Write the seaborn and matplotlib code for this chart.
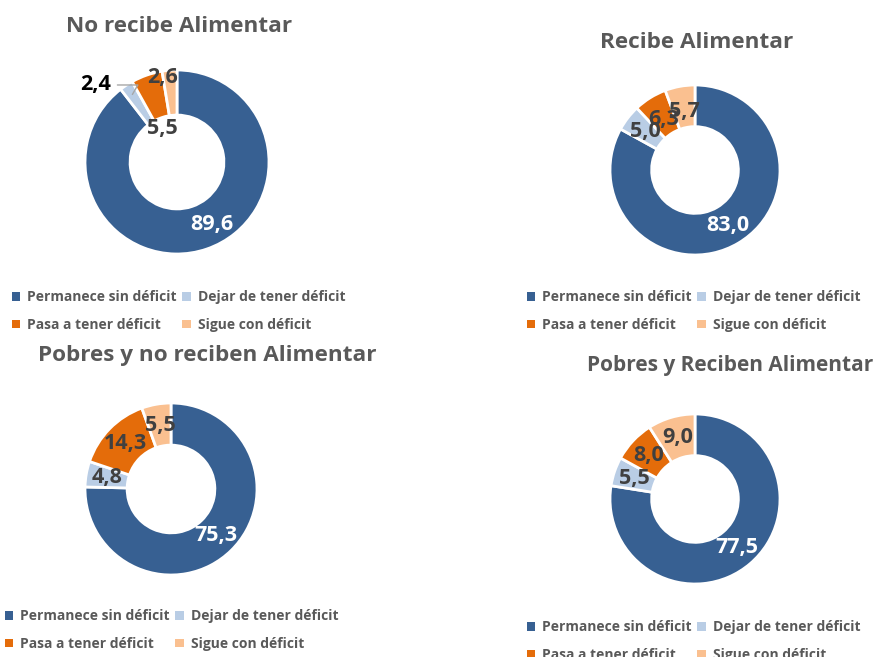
import numpy as np
import matplotlib.pyplot as plt
import seaborn as sns
from matplotlib.patches import Patch

categories = ["Permanece sin déficit", "Dejar de tener déficit",
              "Pasa a tener déficit", "Sigue con déficit"]
colors = ["#376092", "#B9CDE5", "#E46C0A", "#FAC090"]

no_recibe = [89.6, 2.4, 5.5, 2.6]
recibe = [83.0, 5.0, 6.3, 5.7]
pobres_no_recibe = [75.3, 4.8, 14.3, 5.5]
pobres_recibe = [77.5, 5.5, 8.0, 9.0]

titles = ["No recibe Alimentar", "Recibe Alimentar",
          "Pobres y no reciben Alimentar", "Pobres y Reciben Alimentar"]

W, H = 874, 657
sns.set_theme(style="white")
plt.rcParams["font.family"] = ["Open Sans", "DejaVu Sans"]

fig = plt.figure(figsize=(W / 100, H / 100), dpi=100)
fig.patch.set_facecolor("white")

TXT = "#404040"
GRAY = "#595959"


def px(x, y):
    # pixel coords (top-left origin) -> figure fraction
    return x / W, 1 - y / H


def donut(values, center, radius, title, title_pos, legend_pos, title_size=16.2,
          label_r=None, label_dang=None):
    cx, cy = center
    ax = fig.add_axes([(cx - radius) / W, (H - cy - radius) / H,
                       2 * radius / W, 2 * radius / H])
    wedges, _ = ax.pie(values, colors=colors, startangle=90, counterclock=False,
                       radius=1.0,
                       wedgeprops=dict(width=0.49, edgecolor="white", linewidth=2))
    ax.set_xlim(-1, 1)
    ax.set_ylim(-1, 1)
    ax.set_aspect("auto")
    ax.axis("off")

    label_r = label_r or [0.75] * len(values)
    label_dang = label_dang or [0] * len(values)
    for i, (w, v) in enumerate(zip(wedges, values)):
        ang = np.deg2rad((w.theta1 + w.theta2) / 2 + label_dang[i])
        r = label_r[i]
        x, y = r * np.cos(ang), r * np.sin(ang)
        txt = f"{v:.1f}".replace(".", ",")
        col = "white" if i == 0 else TXT
        if r > 1.05:
            mid = np.deg2rad((w.theta1 + w.theta2) / 2)
            ax.annotate(txt, xy=(0.88 * np.cos(mid), 0.88 * np.sin(mid)),
                        xytext=(x, y), ha="right", va="center",
                        fontsize=15.5, fontweight="bold", color="black",
                        arrowprops=dict(arrowstyle="-", color="#A6A6A6", lw=1,
                                        connectionstyle="angle,angleA=0,angleB=60",
                                        shrinkA=2, shrinkB=0),
                        annotation_clip=False)
        else:
            ax.text(x, y, txt, ha="center", va="center", fontsize=15.5,
                    fontweight="bold", color=col)

    tx, ty = px(*title_pos)
    fig.text(tx, ty, title, ha="center", va="center", fontsize=title_size,
             fontweight="bold", color=GRAY)

    order = [0, 2, 1, 3]
    handles = [Patch(facecolor=colors[k], edgecolor="none") for k in order]
    labels = [categories[k] for k in order]
    lx, ly = px(*legend_pos)
    leg = ax.legend(handles, labels, ncol=2, loc="upper left",
                    bbox_to_anchor=(lx, ly), bbox_transform=fig.transFigure,
                    frameon=False, fontsize=10, handlelength=0.6,
                    handleheight=0.6, handletextpad=0.5, columnspacing=0.4,
                    labelspacing=1.0, borderpad=0, borderaxespad=0)
    for t in leg.get_texts():
        t.set_color(GRAY)
        t.set_fontweight("bold")
    return ax


donut(no_recibe, (177, 162), 92, titles[0], (179, 27), (12, 290),
      label_r=[0.78, 1.1, 0.40, 0.93], label_dang=[10, 7, 5, 5])
donut(recibe, (695, 170), 85, titles[1], (697, 43), (527, 290),
      label_r=[0.76, 0.74, 0.70, 0.70])
donut(pobres_no_recibe, (171, 489), 86, titles[2], (207, 355), (5, 609))
donut(pobres_recibe, (695, 499), 85, titles[3], (730, 365), (527, 620),
      title_size=15)

fig.savefig("out.png", dpi=100, facecolor="white")
